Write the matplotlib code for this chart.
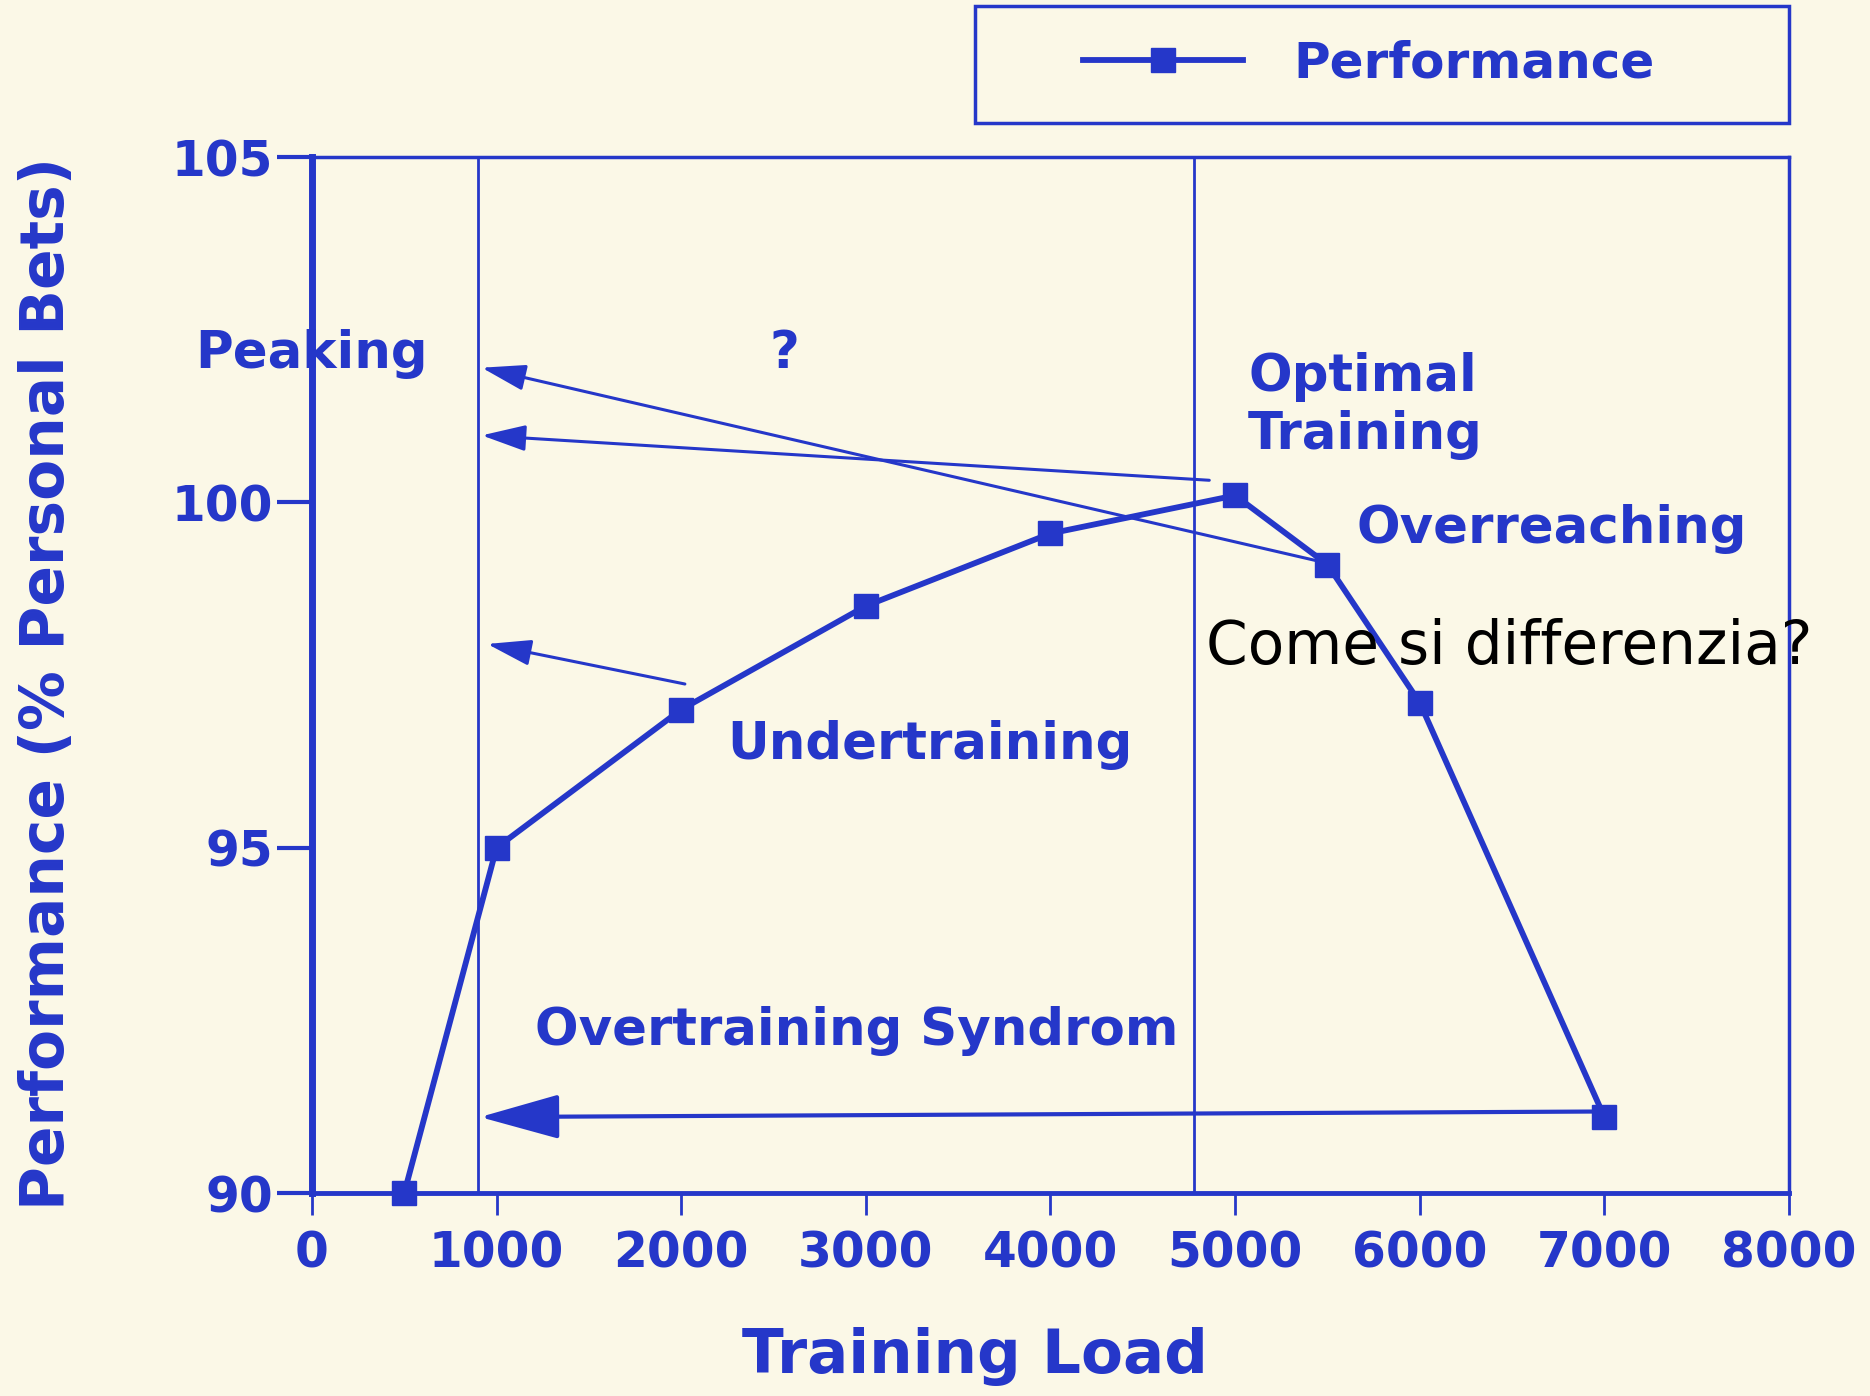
import matplotlib
matplotlib.use("Agg")
import matplotlib.pyplot as plt
from matplotlib.lines import Line2D
from matplotlib.patches import Rectangle

# ── Data ─────────────────────────────────────────────────────────────────────

training_load = [500, 1000, 2000, 3000, 4000, 5000, 5500, 6000, 7000]
performance = [90.0, 95.0, 97.0, 98.5, 99.55, 100.1, 99.1, 97.1, 91.1]

x_ticks = [0, 1000, 2000, 3000, 4000, 5000, 6000, 7000, 8000]
y_ticks = [90, 95, 100, 105]

zone_bounds = [900, 4780]

# (start, end) of the annotation arrows, data coords
arrows_small = [
    ((5450, 99.15), (920, 101.95)),
    ((4860, 100.32), (920, 100.97)),
    ((2020, 97.37), (950, 97.95)),
]
arrow_big = ((6960, 91.18), (910, 91.1))

zone_labels = [
    ("Peaking", -630, 102.15),
    ("?", 2480, 102.15),
    ("Optimal\nTraining", 5070, 101.4),
    ("Overreaching", 5660, 99.62),
    ("Undertraining", 2250, 96.49),
    ("Overtraining Syndrom", 1210, 92.35),
]

BLUE = "#2537c9"
BG = "#fbf8e7"

# ── Figure ───────────────────────────────────────────────────────────────────

fig = plt.figure(figsize=(18.7, 13.96), dpi=100, facecolor=BG)
ax = fig.add_axes([0.1668, 0.1454, 0.7899, 0.7421], facecolor=BG)
ax.set_xlim(0, 8000)
ax.set_ylim(90, 105)

for x in zone_bounds:
    ax.axvline(x, color=BLUE, lw=2.0, zorder=1)

ax.plot(training_load, performance, color=BLUE, lw=4.2, marker="s",
        markersize=17, clip_on=False, zorder=4)

for (x0, y0), (x1, y1) in arrows_small:
    ax.annotate("", xy=(x1, y1), xytext=(x0, y0),
                arrowprops=dict(arrowstyle="-|>,head_length=1.35,head_width=0.4",
                                mutation_scale=20, color=BLUE, lw=2.2,
                                shrinkA=0, shrinkB=0))
(x0, y0), (x1, y1) = arrow_big
ax.annotate("", xy=(x1, y1), xytext=(x0, y0),
            arrowprops=dict(arrowstyle="-|>,head_length=2.5,head_width=0.7",
                            mutation_scale=20, color=BLUE, lw=3.0,
                            shrinkA=0, shrinkB=0))

for text, x, y in zone_labels:
    ax.text(x, y, text, color=BLUE, fontsize=37, fontweight="bold",
            ha="left", va="center", linespacing=1.2, zorder=2)

ax.text(4840, 97.9, "Come si differenzia?", color="black", fontsize=43,
        ha="left", va="center", zorder=5)

# ── Axes styling ─────────────────────────────────────────────────────────────

for side in ["top", "right"]:
    ax.spines[side].set_linewidth(2.5)
ax.spines["left"].set_linewidth(5)
ax.spines["bottom"].set_linewidth(3.5)
for sp in ax.spines.values():
    sp.set_color(BLUE)

ax.set_xticks(x_ticks)
ax.set_yticks(y_ticks)
ax.set_xticklabels([str(v) for v in x_ticks])
ax.set_yticklabels([str(v) for v in y_ticks])
ax.tick_params(axis="x", direction="out", length=16, width=2, color=BLUE,
               labelcolor=BLUE, labelsize=35, pad=10)
ax.tick_params(axis="y", direction="out", length=25, width=3, color=BLUE,
               labelcolor=BLUE, labelsize=35, pad=3)
for lab in ax.get_xticklabels() + ax.get_yticklabels():
    lab.set_fontweight("bold")

fig.text(48 / 1870, 1 - 683 / 1396, "Performance (% Personal Bets)",
         rotation=90, color=BLUE, fontsize=43, fontweight="bold",
         ha="center", va="center")
fig.text(975 / 1870, 1 - 1357 / 1396, "Training Load", color=BLUE,
         fontsize=44, fontweight="bold", ha="center", va="center")

# ── Legend ───────────────────────────────────────────────────────────────────

fig.add_artist(Rectangle((975 / 1870, 1 - 123 / 1396), 814 / 1870, 117 / 1396,
                         transform=fig.transFigure, fill=False,
                         edgecolor=BLUE, lw=2.5))
handle = Line2D([], [], color=BLUE, lw=4.2, marker="s", markersize=17)
fig.legend([handle], ["Performance"], loc="center left",
           bbox_to_anchor=(1083 / 1870, 1 - 63 / 1396), frameon=False,
           borderpad=0, borderaxespad=0, handlelength=3.2, handletextpad=1.0,
           prop=dict(size=36, weight="bold"), labelcolor=BLUE)

fig.savefig("out.png", dpi=100, facecolor=BG)
